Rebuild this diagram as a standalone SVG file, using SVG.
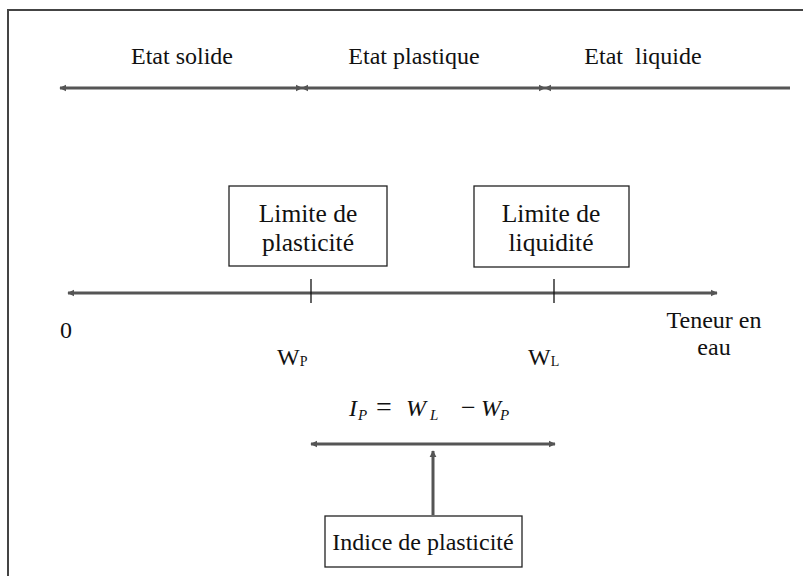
<svg xmlns="http://www.w3.org/2000/svg" width="803" height="576" viewBox="0 0 803 576" font-family="'Liberation Serif','Times New Roman',serif">
<style>
text{font-family:"Liberation Serif","Times New Roman",serif;font-size:24px;fill:#111}
.ln{stroke:#555;stroke-width:3;fill:none}
.tk{stroke:#111;stroke-width:1.3}
.box{fill:#fff;stroke:#222;stroke-width:1.3}
.bl{font-size:25.5px}
.m{font-style:italic}
</style>
<defs>
<marker id="ah" viewBox="0 0 10 10" refX="9" refY="5" markerWidth="2.4" markerHeight="2.6" orient="auto-start-reverse" markerUnits="strokeWidth">
<path d="M0,0 L10,5 L0,10 z" fill="#555"/>
</marker>
</defs>
<path d="M8,576 V10 H803" fill="none" stroke="#444" stroke-width="2"/>
<g id="connectors">
<line class="ln" x1="60" y1="88" x2="302" y2="88" marker-start="url(#ah)" marker-end="url(#ah)"/>
<line class="ln" x1="302" y1="88" x2="545" y2="88" marker-start="url(#ah)" marker-end="url(#ah)"/>
<line class="ln" x1="545" y1="88" x2="790" y2="88" marker-start="url(#ah)"/>
<line class="ln" x1="68" y1="293" x2="717" y2="293" marker-start="url(#ah)" marker-end="url(#ah)"/>
<line class="tk" x1="311" y1="279" x2="311" y2="303"/>
<line class="tk" x1="554" y1="279" x2="554" y2="303"/>
<line class="ln" x1="311" y1="444" x2="555" y2="444" marker-start="url(#ah)" marker-end="url(#ah)"/>
<line class="ln" x1="433" y1="515" x2="433" y2="451" marker-end="url(#ah)"/>
</g>
<g id="labels">
<text x="182" y="64" text-anchor="middle" font-size="24.5">Etat solide</text>
<text x="414" y="64" text-anchor="middle" font-size="25.5">Etat plastique</text>
<text x="643" y="64" text-anchor="middle" font-size="25.5" xml:space="preserve">Etat  liquide</text>
<text x="66" y="338" text-anchor="middle">0</text>
<text x="277" y="365">W<tspan font-size="14" dy="1">P</tspan></text>
<text x="528" y="365">W<tspan font-size="14" dy="1">L</tspan></text>
<text x="714" y="328" text-anchor="middle">Teneur en</text>
<text x="714" y="355" text-anchor="middle">eau</text>
<text y="416" class="m"><tspan x="349">I</tspan><tspan x="358" dy="4" font-size="15">P</tspan><tspan x="376" dy="-4" font-style="normal" font-size="28">=</tspan><tspan x="406">W</tspan><tspan x="430" dy="4" font-size="15">L</tspan><tspan x="461" dy="-4" font-style="normal" font-size="26">−</tspan><tspan x="481">W</tspan><tspan x="500" dy="4" font-size="15">P</tspan></text>
</g>
<g id="node-plasticite">
<rect class="box" x="229" y="186" width="158" height="80"/>
<text class="bl" x="308" y="222" text-anchor="middle">Limite de</text>
<text class="bl" x="308" y="251" text-anchor="middle">plasticité</text>
</g>
<g id="node-liquidite">
<rect class="box" x="474" y="186" width="155" height="81"/>
<text class="bl" x="551" y="222" text-anchor="middle">Limite de</text>
<text class="bl" x="551" y="251" text-anchor="middle">liquidité</text>
</g>
<g id="node-indice">
<rect class="box" x="325" y="516" width="197" height="51"/>
<text x="423" y="550" text-anchor="middle" font-size="22.5">Indice de plasticité</text>
</g>
</svg>
